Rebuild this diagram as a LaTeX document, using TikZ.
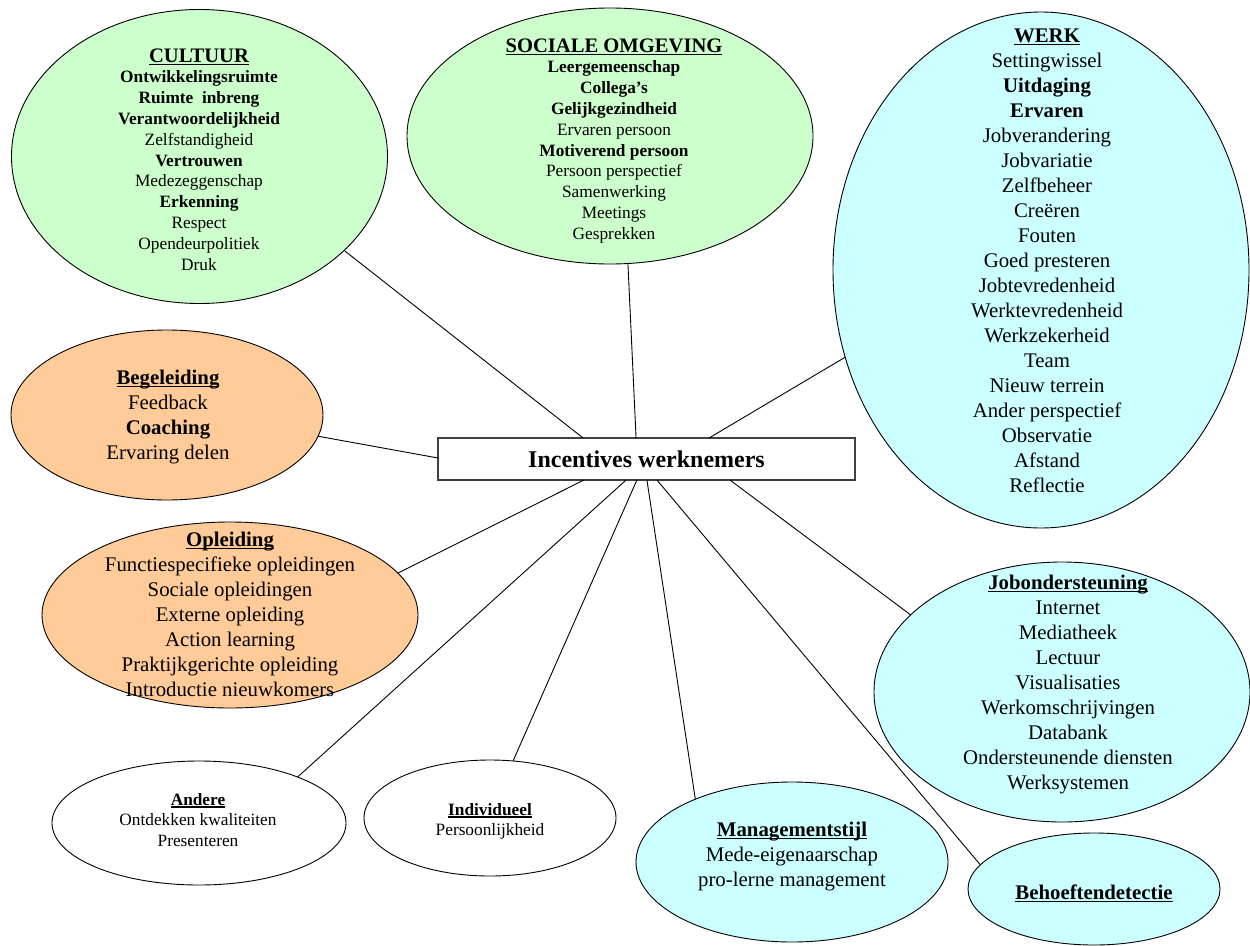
\documentclass[tikz,border=0pt]{standalone}
\usepackage{fontspec}
\setmainfont{Liberation Serif}
\usetikzlibrary{shapes.geometric,calc}

\definecolor{bubgreen}{HTML}{CCFFCC}
\definecolor{bubcyan}{HTML}{CCFFFF}
\definecolor{buborange}{HTML}{FFCC99}
\definecolor{boxedge}{HTML}{404040}

% item sizes: small bubbles and large bubbles
\newcommand\txtS{\fontsize{17.3}{20.8}\selectfont}
\newcommand\txtL{\fontsize{20.8}{25}\selectfont}
% bold heading with a fixed underline
\newcommand\ulhead[1]{\textbf{\setbox0\hbox{#1}\rlap{\rule[-0.15em]{\wd0}{0.075em}}\box0}}
% centred column whose baseline is the first line
\newcommand\bubstack[1]{\begin{tabular}[t]{@{}c@{}}#1\end{tabular}}

\tikzset{
  bub/.style={ellipse, draw=black, line width=0.9pt, inner sep=0pt, outer sep=0pt},
  txt/.style={inner sep=0pt, outer sep=0pt, anchor=base, align=center},
  link/.style={line width=0.9pt, draw=black},
}

\begin{document}
\begin{tikzpicture}[x=1pt, y=-1pt]
\useasboundingbox (0,0) rectangle (1250,945);

% bubbles
\node[bub, fill=bubgreen,  minimum width=376pt, minimum height=294pt] (cult)   at (199.5,156.5) {};
\node[bub, fill=bubgreen,  minimum width=406pt, minimum height=256pt] (soc)    at (610,136) {};
\node[bub, fill=bubcyan,   minimum width=416pt, minimum height=516pt] (werk)   at (1041,270) {};
\node[bub, fill=buborange, minimum width=312pt, minimum height=170pt] (beg)    at (167,415) {};
\node[bub, fill=buborange, minimum width=376pt, minimum height=186pt] (opl)    at (230,615) {};
\node[bub, fill=bubcyan,   minimum width=376pt, minimum height=260pt] (jobo)   at (1062,692) {};
\node[bub, fill=bubcyan,   minimum width=252pt, minimum height=112pt] (behoe)  at (1094,889) {};
\node[bub, fill=bubcyan,   minimum width=312pt, minimum height=160pt] (mgmt)   at (792,862) {};
\node[bub, fill=white,     minimum width=294pt, minimum height=124pt] (andere) at (199,823) {};
\node[bub, fill=white,     minimum width=252pt, minimum height=116pt] (indiv)  at (490,818) {};

% central box
\node[draw=boxedge, line width=1.5pt, fill=white, minimum width=417pt, minimum height=42pt,
      inner sep=0pt, outer sep=0pt] (box) at (646.5,459)
  {\fontsize{24}{28}\selectfont\bfseries Incentives werknemers};

% bubble texts
\node[txt] (cultT) at (199,62) {\txtS\bubstack{%
  {\fontsize{20.6}{20.8}\selectfont\ulhead{CULTUUR}}\\
  \textbf{Ontwikkelingsruimte}\\
  \textbf{Ruimte\ \ inbreng}\\
  \textbf{Verantwoordelijkheid}\\
  Zelfstandigheid\\
  \textbf{Vertrouwen}\\
  Medezeggenschap\\
  \textbf{Erkenning}\\
  Respect\\
  Opendeurpolitiek\\
  Druk}};

\node[txt] (socT) at (614,52) {\txtS\bubstack{%
  {\fontsize{20.6}{20.8}\selectfont\ulhead{SOCIALE OMGEVING}}\\
  \textbf{Leergemeenschap}\\
  \textbf{Collega’s}\\
  \textbf{Gelijkgezindheid}\\
  Ervaren persoon\\
  \textbf{Motiverend persoon}\\
  Persoon perspectief\\
  Samenwerking\\
  Meetings\\
  Gesprekken}};

\node[txt] (werkT) at (1047,42) {\txtL\bubstack{%
  \ulhead{WERK}\\
  Settingwissel\\
  \textbf{Uitdaging}\\
  \textbf{Ervaren}\\
  Jobverandering\\
  Jobvariatie\\
  Zelfbeheer\\
  Creëren\\
  Fouten\\
  Goed presteren\\
  Jobtevredenheid\\
  Werktevredenheid\\
  Werkzekerheid\\
  Team\\
  Nieuw terrein\\
  Ander perspectief\\
  Observatie\\
  Afstand\\
  Reflectie}};

\node[txt] (begT) at (168,384) {\txtL\bubstack{%
  \ulhead{Begeleiding}\\
  Feedback\\
  \textbf{Coaching}\\
  Ervaring delen}};

\node[txt] (oplT) at (230,546) {\txtL\bubstack{%
  \ulhead{Opleiding}\\
  Functiespecifieke opleidingen\\
  Sociale opleidingen\\
  Externe opleiding\\
  Action learning\\
  Praktijkgerichte opleiding\\
  Introductie nieuwkomers}};

\node[txt] (joboT) at (1068,589) {\txtL\bubstack{%
  \ulhead{Jobondersteuning}\\
  Internet\\
  Mediatheek\\
  Lectuur\\
  Visualisaties\\
  Werkomschrijvingen\\
  Databank\\
  Ondersteunende diensten\\
  Werksystemen}};

\node[txt] (behoeT) at (1094,899) {\txtL\ulhead{Behoeftendetectie}};

\node[txt] (mgmtT) at (792,836) {\txtL\bubstack{%
  \ulhead{Managementstijl}\\
  Mede-eigenaarschap\\
  pro-lerne management}};

\node[txt] (andereT) at (198,805) {\txtS\bubstack{%
  \ulhead{Andere}\\
  Ontdekken kwaliteiten\\
  Presenteren}};

\node[txt] (indivT) at (490,815) {\txtS\bubstack{%
  \ulhead{Individueel}\\
  Persoonlijkheid}};

% connectors from the bubbles to the central box
\draw[link] (cult.-33.3)  -- ($(box.north west)!0.348!(box.north east)$);
\draw[link] (soc.-82.8)   -- ($(box.north west)!0.475!(box.north east)$);
\draw[link] (werk.-156.8) -- ($(box.north west)!0.650!(box.north east)$);
\draw[link] (beg.-8.3)    -- ($(box.north west)!0.476!(box.south west)$);
\draw[link] (opl.14.1)    -- ($(box.south west)!0.350!(box.south east)$);
\draw[link] (andere.25.1) -- ($(box.south west)!0.451!(box.south east)$);
\draw[link] (indiv.68.9)  -- ($(box.south west)!0.477!(box.south east)$);
\draw[link] (mgmt.147.4)  -- ($(box.south west)!0.501!(box.south east)$);
\draw[link] (behoe.168.1) -- ($(box.south west)!0.525!(box.south east)$);
\draw[link] (jobo.153.6)  -- ($(box.south west)!0.700!(box.south east)$);
\end{tikzpicture}
\end{document}
